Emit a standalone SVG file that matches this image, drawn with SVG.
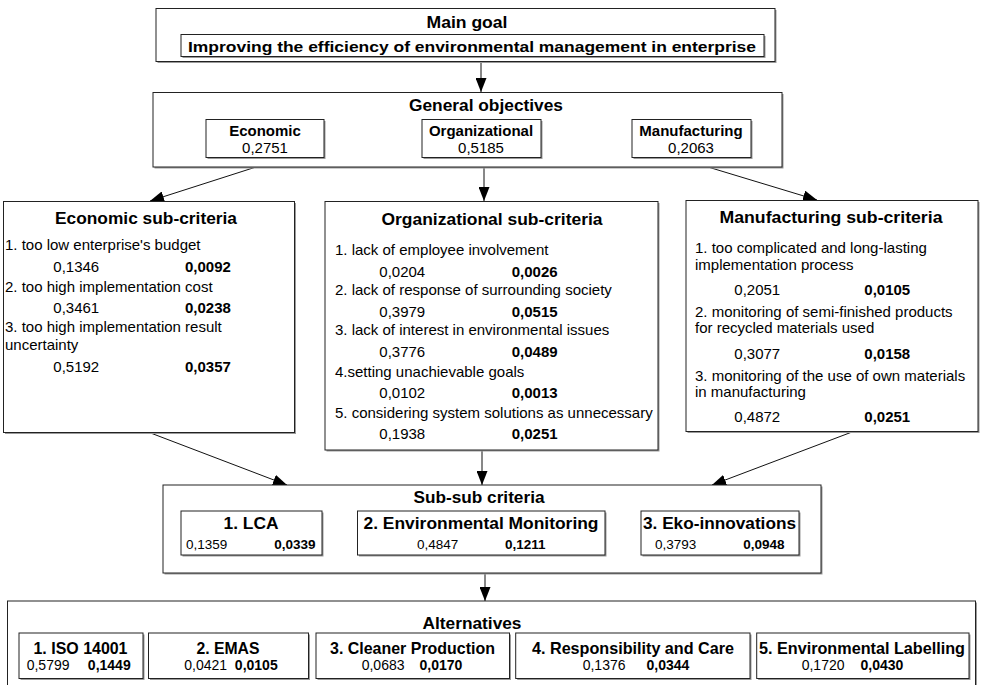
<svg xmlns="http://www.w3.org/2000/svg" width="981" height="685" viewBox="0 0 981 685">
<defs>
<style>
text{font-family:"Liberation Sans",Arial,sans-serif;fill:#000}
.b{font-weight:bold}
.t{font-weight:bold;font-size:16.5px;text-anchor:middle}
.m{text-anchor:middle}
.e{text-anchor:end}
.f15{font-size:15px}
.f14{font-size:14px}
.f13{font-size:13.5px}
.bx{fill:#fff;stroke:#222;stroke-width:1}
.sh{fill:#9a9a9a}
.cn{stroke:#111;stroke-width:1;fill:none;marker-end:url(#ah)}
</style>
<marker id="ah" markerUnits="userSpaceOnUse" markerWidth="14" markerHeight="11" refX="14" refY="5.5" orient="auto">
<path d="M0,0 L14,5.5 L0,11 Z" fill="#000"/>
</marker>
</defs>
<rect width="981" height="685" fill="#fff"/>

<g id="connectors">
<line class="cn" x1="481" y1="62" x2="481" y2="92"/>
<line class="cn" x1="256" y1="167" x2="150" y2="201"/>
<line class="cn" x1="484" y1="167" x2="484" y2="201"/>
<line class="cn" x1="708" y1="167" x2="817" y2="200"/>
<line class="cn" x1="148" y1="432" x2="287" y2="485"/>
<line class="cn" x1="482" y1="450" x2="482" y2="485"/>
<line class="cn" x1="852" y1="432" x2="712" y2="485"/>
<line class="cn" x1="485" y1="573" x2="485" y2="601"/>
</g>

<g id="main-goal">
<rect class="sh" x="157.5" y="10" width="619" height="53"/>
<rect class="bx" x="156" y="8.5" width="619" height="53"/>
<rect class="sh" x="182.5" y="36" width="583" height="22"/>
<rect class="bx" x="181" y="34.5" width="583" height="22"/>
<text class="t" x="467" y="27.5" font-size="16" textLength="81" lengthAdjust="spacingAndGlyphs">Main goal</text>
<text class="b m" x="472" y="51.5" font-size="15" textLength="568" lengthAdjust="spacingAndGlyphs">Improving the efficiency of environmental management in enterprise</text>
</g>

<g id="general-objectives">
<rect class="sh" x="154.5" y="94" width="629" height="74.5"/>
<rect class="bx" x="153" y="92.5" width="629" height="74.5"/>
<text class="t" x="486" y="111" textLength="154" lengthAdjust="spacingAndGlyphs">General objectives</text>
</g>
<g id="go-economic">
<rect class="sh" x="207.5" y="121" width="118" height="38"/>
<rect class="bx" x="206" y="119.5" width="118" height="38"/>
<text class="b m f15" x="265" y="136">Economic</text>
<text class="m f15" x="265" y="152.5">0,2751</text>
</g>
<g id="go-organizational">
<rect class="sh" x="423.5" y="121" width="119" height="38"/>
<rect class="bx" x="422" y="119.5" width="119" height="38"/>
<text class="b m f15" x="481" y="136">Organizational</text>
<text class="m f15" x="481" y="152.5">0,5185</text>
</g>
<g id="go-manufacturing">
<rect class="sh" x="633.5" y="121" width="119" height="38"/>
<rect class="bx" x="632" y="119.5" width="119" height="38"/>
<text class="b m f15" x="691" y="136">Manufacturing</text>
<text class="m f15" x="691" y="152.5">0,2063</text>
</g>

<g id="economic-sub">
<rect class="sh" x="5" y="203" width="291" height="231"/>
<rect class="bx" x="3.5" y="201.5" width="291" height="231"/>
<text class="t" x="146" y="223.5" textLength="182" lengthAdjust="spacingAndGlyphs">Economic sub-criteria</text>
<text class="f15" x="5" y="250">1. too low enterprise's budget</text>
<text class="f15" x="53.3" y="271.7">0,1346</text>
<text class="f15 b" x="185" y="271.7">0,0092</text>
<text class="f15" x="5" y="291.7">2. too high implementation cost</text>
<text class="f15" x="53.3" y="313.3">0,3461</text>
<text class="f15 b" x="185" y="313.3">0,0238</text>
<text class="f15" x="5" y="332.3">3. too high implementation result</text>
<text class="f15" x="5" y="350">uncertainty</text>
<text class="f15" x="53.3" y="371.7">0,5192</text>
<text class="f15 b" x="185" y="371.7">0,0357</text>
</g>

<g id="organizational-sub">
<rect class="sh" x="326.5" y="203" width="333" height="248.5"/>
<rect class="bx" x="325" y="201.5" width="333" height="248.5"/>
<text class="t" x="492" y="224.5" textLength="221" lengthAdjust="spacingAndGlyphs">Organizational sub-criteria</text>
<text class="f15" x="335" y="255">1. lack of employee involvement</text>
<text class="f15" x="379.3" y="276.7">0,0204</text>
<text class="f15 b" x="511.7" y="276.7">0,0026</text>
<text class="f15" x="335" y="295">2. lack of response of surrounding society</text>
<text class="f15" x="379.3" y="316.7">0,3979</text>
<text class="f15 b" x="511.7" y="316.7">0,0515</text>
<text class="f15" x="335" y="335">3. lack of interest in environmental issues</text>
<text class="f15" x="379.3" y="357.3">0,3776</text>
<text class="f15 b" x="511.7" y="357.3">0,0489</text>
<text class="f15" x="335" y="376.7">4.setting unachievable goals</text>
<text class="f15" x="379.3" y="398.3">0,0102</text>
<text class="f15 b" x="511.7" y="398.3">0,0013</text>
<text class="f15" x="335" y="417.7">5. considering system solutions as unnecessary</text>
<text class="f15" x="379.3" y="439.3">0,1938</text>
<text class="f15 b" x="511.7" y="439.3">0,0251</text>
</g>

<g id="manufacturing-sub">
<rect class="sh" x="687.5" y="202" width="292" height="231"/>
<rect class="bx" x="686" y="200.5" width="292" height="231"/>
<text class="t" x="831" y="222.5" textLength="223" lengthAdjust="spacingAndGlyphs">Manufacturing sub-criteria</text>
<text class="f15" x="695" y="253.3">1. too complicated and long-lasting</text>
<text class="f15" x="695" y="270">implementation process</text>
<text class="f15" x="734.3" y="295">0,2051</text>
<text class="f15 b" x="864.3" y="295">0,0105</text>
<text class="f15" x="695" y="316.7">2. monitoring of semi-finished products</text>
<text class="f15" x="695" y="333.3">for recycled materials used</text>
<text class="f15" x="734.3" y="359">0,3077</text>
<text class="f15 b" x="864.3" y="359">0,0158</text>
<text class="f15" x="695" y="380.7">3. monitoring of the use of own materials</text>
<text class="f15" x="695" y="396.7">in manufacturing</text>
<text class="f15" x="734.3" y="422.3">0,4872</text>
<text class="f15 b" x="864.3" y="422.3">0,0251</text>
</g>

<g id="sub-sub-criteria">
<rect class="sh" x="164.5" y="486.5" width="658" height="88"/>
<rect class="bx" x="163" y="485" width="658" height="88"/>
<text class="t" x="479" y="503" textLength="131" lengthAdjust="spacingAndGlyphs">Sub-sub criteria</text>
</g>
<g id="ss-lca">
<rect class="sh" x="182.5" y="512.5" width="141" height="44"/>
<rect class="bx" x="181" y="511" width="141" height="44"/>
<text class="t" x="251" y="528.5" textLength="55" lengthAdjust="spacingAndGlyphs">1. LCA</text>
<text class="f13" x="186" y="548.5">0,1359</text>
<text class="f13 b e" x="315.5" y="548.5">0,0339</text>
</g>
<g id="ss-monitoring">
<rect class="sh" x="359" y="512.5" width="247.5" height="44"/>
<rect class="bx" x="357.5" y="511" width="247.5" height="44"/>
<text class="t" x="481" y="528.5" textLength="235" lengthAdjust="spacingAndGlyphs">2. Environmental Monitoring</text>
<text class="f13" x="417" y="548.5">0,4847</text>
<text class="f13 b" x="505" y="548.5">0,1211</text>
</g>
<g id="ss-eko">
<rect class="sh" x="642.5" y="512.5" width="158" height="44"/>
<rect class="bx" x="641" y="511" width="158" height="44"/>
<text class="t" x="719.5" y="528.5" textLength="153" lengthAdjust="spacingAndGlyphs">3. Eko-innovations</text>
<text class="f13" x="655" y="548.5">0,3793</text>
<text class="f13 b e" x="784.5" y="548.5">0,0948</text>
</g>

<g id="alternatives">
<rect class="sh" x="9" y="602.5" width="968" height="100"/>
<rect class="bx" x="7.5" y="601" width="968" height="100"/>
<text class="t" x="472" y="628.5" textLength="99" lengthAdjust="spacingAndGlyphs">Alternatives</text>
</g>
<g id="alt-iso">
<rect class="sh" x="20.5" y="634.5" width="124" height="45.5"/>
<rect class="bx" x="19" y="633" width="124" height="45.5"/>
<text class="t" x="80.5" y="654" font-size="16" textLength="94" lengthAdjust="spacingAndGlyphs">1. ISO 14001</text>
<text class="f14" x="26.7" y="670">0,5799</text>
<text class="f14 b e" x="130.7" y="670">0,1449</text>
</g>
<g id="alt-emas">
<rect class="sh" x="150" y="634.5" width="160" height="45.5"/>
<rect class="bx" x="148.5" y="633" width="160" height="45.5"/>
<text class="t" x="228" y="654" font-size="16" textLength="63" lengthAdjust="spacingAndGlyphs">2. EMAS</text>
<text class="f14" x="184.3" y="670">0,0421</text>
<text class="f14 b e" x="277.7" y="670">0,0105</text>
</g>
<g id="alt-cleaner">
<rect class="sh" x="317.5" y="634.5" width="193.5" height="45.5"/>
<rect class="bx" x="316" y="633" width="193.5" height="45.5"/>
<text class="t" x="412.5" y="654" font-size="16" textLength="165" lengthAdjust="spacingAndGlyphs">3. Cleaner Production</text>
<text class="f14" x="361.7" y="670">0,0683</text>
<text class="f14 b e" x="462.3" y="670">0,0170</text>
</g>
<g id="alt-responsibility">
<rect class="sh" x="517.2" y="634.5" width="234.3" height="45.5"/>
<rect class="bx" x="515.7" y="633" width="234.3" height="45.5"/>
<text class="t" x="633" y="654" font-size="16" textLength="202" lengthAdjust="spacingAndGlyphs">4. Responsibility and Care</text>
<text class="f14" x="582.7" y="670">0,1376</text>
<text class="f14 b e" x="689.3" y="670">0,0344</text>
</g>
<g id="alt-labelling">
<rect class="sh" x="758.2" y="634.5" width="212.3" height="45.5"/>
<rect class="bx" x="756.7" y="633" width="212.3" height="45.5"/>
<text class="t" x="862" y="654" font-size="16" textLength="206" lengthAdjust="spacingAndGlyphs">5. Environmental Labelling</text>
<text class="f14" x="801.7" y="670">0,1720</text>
<text class="f14 b e" x="903.3" y="670">0,0430</text>
</g>
</svg>
